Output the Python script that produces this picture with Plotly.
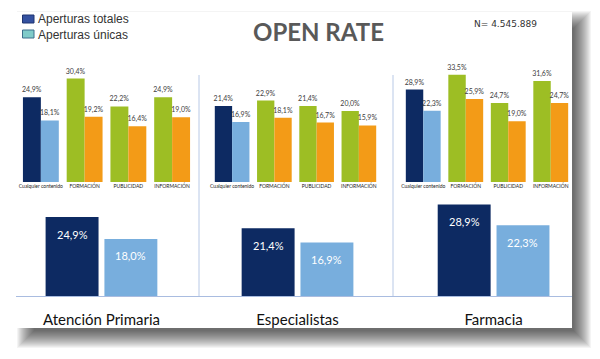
import plotly.graph_objects as go

W, H = 600, 359

# ---------------- data ----------------
categorias = ["Cualquier contenido", "FORMACIÓN", "PUBLICIDAD", "INFORMACIÓN"]
segmentos = ["Atención Primaria", "Especialistas", "Farmacia"]

ap_totales = [24.9, 30.4, 22.2, 24.9]
ap_unicas = [18.1, 19.2, 16.4, 19.0]
esp_totales = [21.4, 22.9, 21.4, 20.0]
esp_unicas = [16.9, 18.1, 16.7, 15.9]
far_totales = [28.9, 33.5, 24.7, 31.6]
far_unicas = [22.3, 25.9, 19.0, 24.7]

global_totales = [24.9, 21.4, 28.9]
global_unicas = [18.0, 16.9, 22.3]

leyenda = ["Aperturas totales", "Aperturas únicas"]
titulo = "OPEN RATE"
n_texto = "N= 4.545.889"

# ---------------- style ----------------
NAVY = "#0D2A62"
LBLUE = "#78AEDD"
GREEN = "#9DBE24"
ORANGE = "#F39B17"
FONT = "Lato"


def px_x(p):
    return p / W


def px_y(p):
    return 1 - p / H


fig = go.Figure()

top_sets = [(ap_totales, ap_unicas), (esp_totales, esp_unicas), (far_totales, far_unicas)]
top_x_dom = [(19, 194), (211, 380), (402, 572)]
top_y_max = [32.9, 31.5, 35.0]
bw = 0.41

for i, (tot, uni) in enumerate(top_sets):
    ax = "" if i == 0 else str(i + 1)
    c1 = [NAVY] + [GREEN] * (len(categorias) - 1)
    c2 = [LBLUE] + [ORANGE] * (len(categorias) - 1)
    for vals, cols, off in ((tot, c1, -bw), (uni, c2, 0.0)):
        fig.add_trace(go.Bar(
            x=categorias, y=vals, marker=dict(color=cols, line=dict(width=0)),
            width=bw, offset=off, xaxis="x" + ax, yaxis="y" + ax,
            texttemplate="%{y:.1f}%", textposition="outside", constraintext="none",
            textfont=dict(size=7, color="#404040", family=FONT),
            cliponaxis=False, showlegend=False, hoverinfo="skip"))

# bottom chart
bw2 = 0.27
for vals, col, off in ((global_totales, NAVY, -0.285), (global_unicas, LBLUE, 0.015)):
    fig.add_trace(go.Bar(
        x=segmentos, y=vals, marker=dict(color=col, line=dict(width=0)),
        width=bw2, offset=off, xaxis="x4", yaxis="y4",
        showlegend=False, hoverinfo="skip"))

layout = dict(
    width=W, height=H, margin=dict(l=0, r=0, t=0, b=0),
    paper_bgcolor="white", plot_bgcolor="rgba(0,0,0,0)",
    barmode="overlay", separators=",.",
    font=dict(family=FONT, color="#222"),
)

y_top_dom = [px_y(182), px_y(70)]
for i in range(3):
    ax = "" if i == 0 else str(i + 1)
    layout["xaxis" + ax] = dict(
        domain=[px_x(top_x_dom[i][0]), px_x(top_x_dom[i][1])], range=[-0.5, 3.5],
        anchor="y" + ax, showgrid=False, zeroline=False, showline=False,
        ticks="", tickangle=0, tickfont=dict(size=5, color="#222", family=FONT),
        fixedrange=True)
    layout["yaxis" + ax] = dict(
        domain=y_top_dom, range=[0, top_y_max[i]], anchor="x" + ax,
        visible=False, fixedrange=True)

layout["xaxis4"] = dict(
    domain=[px_x(16), px_x(572)], range=[-0.436, 2.40], anchor="y4",
    showgrid=False, zeroline=False, showline=True, linecolor="#A9BCE0", linewidth=1,
    ticks="outside", ticklen=10, tickcolor="rgba(0,0,0,0)", tickangle=0,
    tickfont=dict(size=15, color="#111", family=FONT), fixedrange=True)
layout["yaxis4"] = dict(domain=[px_y(296), px_y(200)], range=[0, 30.3], anchor="x4",
                        visible=False, fixedrange=True)

shapes = []
# card shadow (right / bottom)
for s in range(0, 18):
    shapes.append(dict(type="rect", xref="paper", yref="paper", layer="below",
                       x0=px_x(34 - s), x1=px_x(572 + 2 + s),
                       y0=px_y(328 + 3 + s), y1=px_y(28 - s),
                       fillcolor="rgba(0,0,0,0.042)", line=dict(width=0)))
# card
shapes.append(dict(type="rect", xref="paper", yref="paper", layer="below",
                   x0=px_x(15), x1=px_x(572), y0=px_y(328), y1=px_y(12),
                   fillcolor="white", line=dict(width=0)))
# dividers
for xp in (199, 393):
    shapes.append(dict(type="line", xref="paper", yref="paper",
                       x0=px_x(xp), x1=px_x(xp), y0=px_y(296), y1=px_y(75),
                       line=dict(color="#B8C9E6", width=1)))
# legend swatches
leg_cols = [("#3451A0", "#1E3470"), ("#7FCBC9", "#3C6E8C")]
for k, (fc, lc) in enumerate(leg_cols):
    y0 = 15 + 15 * k
    shapes.append(dict(type="rect", xref="paper", yref="paper",
                       x0=px_x(22.5), x1=px_x(34), y0=px_y(y0 + 8), y1=px_y(y0),
                       fillcolor=fc, line=dict(color=lc, width=1)))
layout["shapes"] = shapes

ann = []
for k, t in enumerate(leyenda):
    ann.append(dict(text=t, xref="paper", yref="paper", x=px_x(36), y=px_y(19.5 + 15 * k),
                    xanchor="left", yanchor="middle", showarrow=False,
                    font=dict(family="Liberation Sans", size=12, color="#333")))
ann.append(dict(text="<b>" + titulo + "</b>", xref="paper", yref="paper",
                x=px_x(318.5), y=px_y(31), xanchor="center", yanchor="middle",
                showarrow=False, font=dict(family=FONT, size=24, color="#595959")))
ann.append(dict(text=n_texto, xref="paper", yref="paper", x=px_x(472), y=px_y(24),
                xanchor="left", yanchor="middle", showarrow=False,
                font=dict(family="DejaVu Sans", size=9, color="#333")))
for seg, vt, vu in zip(segmentos, global_totales, global_unicas):
    for v, sh in ((vt, -29.4), (vu, 29.4)):
        ann.append(dict(text=f"{v:.1f}".replace(".", ",") + "%", x=seg, y=v,
                        xref="x4", yref="y4", xshift=sh, yshift=-17,
                        xanchor="center", yanchor="middle", showarrow=False,
                        font=dict(family=FONT, size=11, color="white")))
layout["annotations"] = ann

fig.update_layout(**layout)
fig.write_html("out.html", config={"displayModeBar": False},
               post_script="document.body.style.margin='0';")
